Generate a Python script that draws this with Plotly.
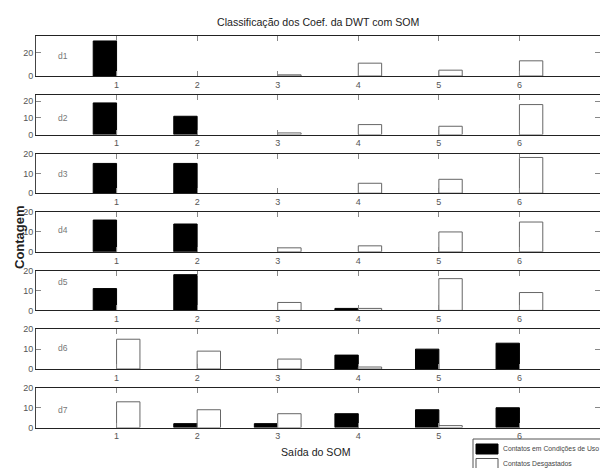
import plotly.graph_objects as go

categories = [1, 2, 3, 4, 5, 6]
panel_labels = ["d1", "d2", "d3", "d4", "d5", "d6", "d7"]
tick_labels = ["1", "2", "3", "4", "5", "6"]
series_names = ["Contatos em Condições de Uso", "Contatos Desgastados"]

# Contatos em Condições de Uso (black)
uso = [
    [30, 0, 0, 0, 0, 0],
    [19, 11, 0, 0, 0, 0],
    [15, 15, 0, 0, 0, 0],
    [16, 14, 0, 0, 0, 0],
    [11, 18, 0, 1, 0, 0],
    [0, 0, 0, 7, 10, 13],
    [0, 2, 2, 7, 9, 10],
]
# Contatos Desgastados (white)
desgastados = [
    [0, 0, 1, 11, 5, 13],
    [0, 0, 1, 6, 5, 18],
    [0, 0, 0, 5, 7, 18],
    [0, 0, 2, 3, 10, 15],
    [0, 0, 4, 1, 16, 9],
    [15, 9, 5, 1, 0, 0],
    [13, 9, 7, 0, 1, 0],
]
y_max = [34, 23.8, 20, 20, 20, 20, 20]
y_ticks = [[0, 20], [0, 10, 20], [0, 10, 20], [0, 10, 20], [0, 10, 20], [0, 10, 20], [0, 10, 20]]

W, H = 600, 468
FONT = "Liberation Sans Narrow, Arial Narrow, Liberation Sans, Arial"
label_yfrac = [0.5, 0.43, 0.49, 0.54, 0.72, 0.52, 0.44]


def px(x):
    return x / W


def py(y):
    return 1 - y / H


fig = go.Figure()
layout = dict(
    width=W, height=H,
    margin=dict(l=0, r=0, t=0, b=0, autoexpand=False),
    paper_bgcolor="white", plot_bgcolor="white",
    barmode="group", bargap=0.42, bargroupgap=0,
    showlegend=False, hovermode=False,
    font=dict(family=FONT, size=9, color="#555"),
)
annotations = []
shapes = []
left_px = 36
for i in range(7):
    sfx = "" if i == 0 else str(i + 1)
    top_px = 36.3 + 58.6 * i
    bot_px = top_px + 39.7
    fig.add_trace(go.Bar(
        x=categories, y=uso[i], name=series_names[0],
        marker=dict(color="black",
                    line=dict(color="black", width=[1 if v > 0 else 0 for v in uso[i]])),
        xaxis="x" + sfx, yaxis="y" + sfx,
    ))
    fig.add_trace(go.Bar(
        x=categories, y=desgastados[i], name=series_names[1],
        marker=dict(color="white",
                    line=dict(color="#666", width=[1 if v > 0 else 0 for v in desgastados[i]])),
        xaxis="x" + sfx, yaxis="y" + sfx,
    ))
    layout["xaxis" + sfx] = dict(
        domain=[px(left_px), 1.0], anchor="y" + sfx, range=[0, 7],
        tickmode="array", tickvals=categories, ticktext=tick_labels,
        ticks="inside", ticklen=5, tickcolor="#888",
        showline=True, linecolor="#222", linewidth=1, mirror="ticks",
        showgrid=False, zeroline=False, automargin=False,
        tickfont=dict(family=FONT, size=9, color="#555"),
    )
    layout["yaxis" + sfx] = dict(
        domain=[py(bot_px), py(top_px)], anchor="x" + sfx,
        range=[0, y_max[i]], tickmode="array", tickvals=y_ticks[i],
        ticks="inside", ticklen=5, tickcolor="#888",
        showline=True, linecolor="#444", linewidth=1, mirror="ticks",
        showgrid=False, zeroline=False, automargin=False,
        tickfont=dict(family=FONT, size=9, color="#555"),
    )
    annotations.append(dict(
        text=panel_labels[i], xref="x" + sfx + " domain", yref="y" + sfx + " domain",
        x=0.047, y=label_yfrac[i], showarrow=False, xanchor="center", yanchor="middle",
        font=dict(family=FONT, size=8.5, color="#777"),
    ))

annotations.append(dict(
    text="Classificação dos Coef. da DWT com SOM", xref="paper", yref="paper",
    x=px(318), y=py(22), showarrow=False, xanchor="center", yanchor="middle",
    font=dict(family=FONT, size=10.6, color="#222"),
))
annotations.append(dict(
    text="Saída do SOM", xref="paper", yref="paper",
    x=px(316), y=py(452), showarrow=False, xanchor="center", yanchor="middle",
    font=dict(family=FONT, size=10.6, color="#222"),
))
annotations.append(dict(
    text="<b>Contagem</b>", xref="paper", yref="paper", textangle=-90,
    x=px(19), y=py(237), showarrow=False, xanchor="center", yanchor="middle",
    font=dict(family="Liberation Sans, Arial", size=13, color="#222"),
))

# legend box (drawn by hand, runs off the right/bottom edge like the reference)
shapes.append(dict(type="rect", xref="paper", yref="paper",
                   x0=px(473), x1=px(640), y0=py(500), y1=py(439),
                   line=dict(color="#555", width=1), fillcolor="white", layer="above"))
legend_fill = ["black", "white"]
legend_line = ["black", "#555"]
row_top = [444, 458.5]
for k in range(2):
    shapes.append(dict(type="rect", xref="paper", yref="paper",
                       x0=px(476), x1=px(498), y0=py(row_top[k] + 10), y1=py(row_top[k]),
                       line=dict(color=legend_line[k], width=1),
                       fillcolor=legend_fill[k], layer="above"))
    annotations.append(dict(
        text=series_names[k], xref="paper", yref="paper",
        x=px(500.5), y=py(row_top[k] + 5.2), showarrow=False,
        xanchor="left", yanchor="middle",
        font=dict(family=FONT, size=6.8, color="#444"),
    ))

layout["annotations"] = annotations
layout["shapes"] = shapes
fig.update_layout(**layout)
fig.write_html(
    "out.html",
    config={"displayModeBar": False, "staticPlot": True},
    post_script="document.body.style.margin='0';document.body.style.overflow='hidden';"
                "document.documentElement.style.overflow='hidden';",
)
